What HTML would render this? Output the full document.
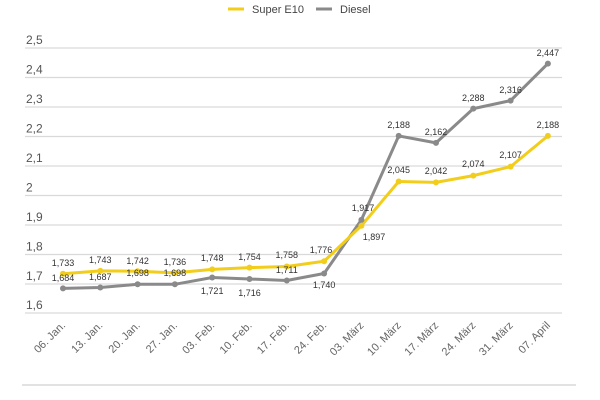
<!DOCTYPE html><html><head><style>body{margin:0;background:#fff}svg{display:block}text{font-family:"Liberation Sans",sans-serif}</style></head><body>
<svg width="600" height="400" xmlns="http://www.w3.org/2000/svg">
<rect width="600" height="400" fill="#fff"/>
<line x1="228" y1="9" x2="244" y2="9" stroke="#f2cd1a" stroke-width="3"/>
<text x="252" y="13" font-size="11" fill="#444">Super E10</text>
<line x1="316" y1="9" x2="332" y2="9" stroke="#8a8a8a" stroke-width="3"/>
<text x="340" y="13" font-size="11" fill="#444">Diesel</text>
<g stroke="#d9d9d9" stroke-width="1.2">
<line x1="25" x2="562" y1="48" y2="48"/><line x1="25" x2="562" y1="77.5" y2="77.5"/><line x1="25" x2="562" y1="107" y2="107"/><line x1="25" x2="562" y1="136.5" y2="136.5"/><line x1="25" x2="562" y1="166" y2="166"/><line x1="25" x2="562" y1="195.5" y2="195.5"/><line x1="25" x2="562" y1="225" y2="225"/><line x1="25" x2="562" y1="254.5" y2="254.5"/><line x1="25" x2="562" y1="284" y2="284"/><line x1="25" x2="562" y1="313" y2="313"/>
<line x1="22" x2="576" y1="385" y2="385" stroke-width="1.5"/>
</g>
<g font-size="12" fill="#555">
<text x="26" y="44">2,5</text><text x="26" y="73.5">2,4</text><text x="26" y="103">2,3</text><text x="26" y="132.5">2,2</text><text x="26" y="162">2,1</text><text x="26" y="191.5">2</text><text x="26" y="221">1,9</text><text x="26" y="250.5">1,8</text><text x="26" y="280">1,7</text><text x="26" y="309">1,6</text>
</g>
<g font-size="11" fill="#666" text-anchor="end">
<text transform="translate(66,326) rotate(-45)">06. Jan.</text>
<text transform="translate(103.3,326) rotate(-45)">13. Jan.</text>
<text transform="translate(140.6,326) rotate(-45)">20. Jan.</text>
<text transform="translate(177.9,326) rotate(-45)">27. Jan.</text>
<text transform="translate(215.2,326) rotate(-45)">03. Feb.</text>
<text transform="translate(252.5,326) rotate(-45)">10. Feb.</text>
<text transform="translate(289.8,326) rotate(-45)">17. Feb.</text>
<text transform="translate(327.1,326) rotate(-45)">24. Feb.</text>
<text transform="translate(364.4,326) rotate(-45)">03. März</text>
<text transform="translate(401.7,326) rotate(-45)">10. März</text>
<text transform="translate(439,326) rotate(-45)">17. März</text>
<text transform="translate(476.3,326) rotate(-45)">24. März</text>
<text transform="translate(513.6,326) rotate(-45)">31. März</text>
<text transform="translate(550.9,326) rotate(-45)">07. April</text>
</g>
<polyline fill="none" stroke="#8a8a8a" stroke-width="3" points="63,288.4 100.3,287.5 137.6,284.3 174.9,284.3 212.2,277.5 249.5,279 286.8,280.5 324.1,273.5 361.4,219.9 398.7,135.9 436,142.9 473.3,108.6 510.6,100.6 547.9,63.6"/>
<polyline fill="none" stroke="#f2cd1a" stroke-width="3" points="63,273.8 100.3,270.9 137.6,271.2 174.9,272.9 212.2,269.4 249.5,267.6 286.8,266.5 324.1,261.2 361.4,225.7 398.7,181.5 436,182.4 473.3,175.6 510.6,166.6 547.9,135.9"/>
<g fill="#8a8a8a"><circle cx="63" cy="288.4" r="3"/><circle cx="100.3" cy="287.5" r="3"/><circle cx="137.6" cy="284.3" r="3"/><circle cx="174.9" cy="284.3" r="3"/><circle cx="212.2" cy="277.5" r="3"/><circle cx="249.5" cy="279" r="3"/><circle cx="286.8" cy="280.5" r="3"/><circle cx="324.1" cy="273.5" r="3"/><circle cx="361.4" cy="219.9" r="3"/><circle cx="398.7" cy="135.9" r="3"/><circle cx="436" cy="142.9" r="3"/><circle cx="473.3" cy="108.6" r="3"/><circle cx="510.6" cy="100.6" r="3"/><circle cx="547.9" cy="63.6" r="3"/></g>
<g fill="#f2cd1a"><circle cx="63" cy="273.8" r="3"/><circle cx="100.3" cy="270.9" r="3"/><circle cx="137.6" cy="271.2" r="3"/><circle cx="174.9" cy="272.9" r="3"/><circle cx="212.2" cy="269.4" r="3"/><circle cx="249.5" cy="267.6" r="3"/><circle cx="286.8" cy="266.5" r="3"/><circle cx="324.1" cy="261.2" r="3"/><circle cx="361.4" cy="225.7" r="3"/><circle cx="398.7" cy="181.5" r="3"/><circle cx="436" cy="182.4" r="3"/><circle cx="473.3" cy="175.6" r="3"/><circle cx="510.6" cy="166.6" r="3"/><circle cx="547.9" cy="135.9" r="3"/></g>
<g font-size="9" fill="#333" text-anchor="middle">
<text x="63" y="266">1,733</text><text x="100.3" y="263">1,743</text><text x="137.6" y="264">1,742</text><text x="174.9" y="265">1,736</text><text x="212.2" y="261">1,748</text><text x="249.5" y="260">1,754</text><text x="286.8" y="258">1,758</text><text x="321" y="253">1,776</text><text x="374" y="240">1,897</text><text x="398.7" y="173">2,045</text><text x="436" y="174">2,042</text><text x="473.3" y="167">2,074</text><text x="510.6" y="158">2,107</text><text x="547.9" y="128">2,188</text>
<text x="63" y="281">1,684</text><text x="100.3" y="280">1,687</text><text x="137.6" y="276">1,698</text><text x="174.9" y="276">1,698</text><text x="212.2" y="294">1,721</text><text x="249.5" y="296">1,716</text><text x="286.8" y="273">1,711</text><text x="324.1" y="288">1,740</text><text x="363" y="211">1,917</text><text x="398.7" y="128">2,188</text><text x="436" y="135">2,162</text><text x="473.3" y="101">2,288</text><text x="510.6" y="93">2,316</text><text x="547.9" y="56">2,447</text>
</g>
</svg></body></html>
